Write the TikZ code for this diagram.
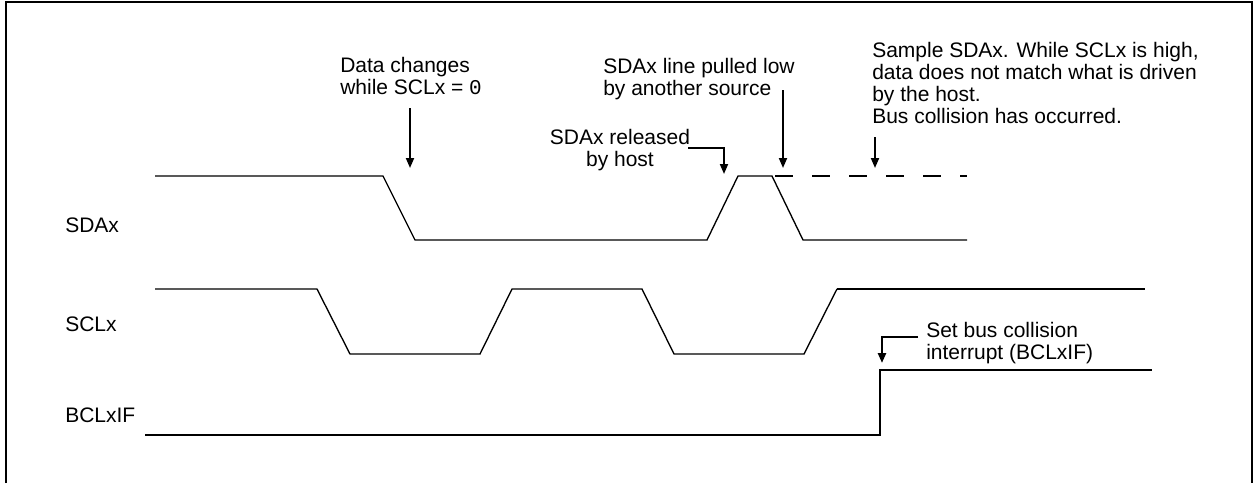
\documentclass[tikz,border=0pt]{standalone}
\usepackage{fontspec}
\setmainfont{Liberation Sans}
\newfontfamily\zerofont{Liberation Mono}
\usetikzlibrary{positioning, arrows.meta}

\begin{document}
\begin{tikzpicture}[
  x=0.75pt, y=-0.75pt,
  font=\fontsize{15.75}{16.3}\selectfont,
  signame/.style={anchor=base west, inner sep=0pt},
  note/.style={anchor=base west, align=left, inner sep=0pt},
  notec/.style={anchor=base, align=center, inner sep=0pt},
  wave/.style={line width=1pt, line join=miter},
  wavebold/.style={line width=2pt},
  arr/.style={-{Triangle[length=7.5pt, width=6pt]}, line width=1.4pt}
]
\useasboundingbox (0,0) rectangle (1257,483);
\draw[line width=2pt] (6,483) -- (6,2) -- (1252,2) -- (1252,483);

% signal names
\node[signame] (sda) at (65,232) {SDAx};
\node[signame] (scl) at (65,331) {SCLx};
\node[signame] (bcl) at (65,422) {BCLxIF};

% waveforms
\draw[wave] (155,176) -- (383,176) -- (415,240) -- (707,240) -- (738,176)
  -- (772,176) -- (803,240) -- (967,240);
\draw[wave, dash pattern=on 13.5pt off 14.25pt] (775,176) -- (967,176);
\draw[wave] (155,289) -- (317,289) -- (350,354) -- (480,354) -- (512,289)
  -- (642,289) -- (674,354) -- (804,354) -- (837,289);
\draw[wavebold] (837,289) -- (1145,289);
\draw[wavebold] (145,435) -- (880,435) -- (880,370) -- (1152,370);

% notes (placed at the baseline of their last line)
\node[note] (chg) at (340,94) {Data changes\\while SCLx = {\zerofont 0}};
\node[note] (pull) at (603,95) {SDAx line pulled low\\by another source};
\node[notec] (rel) at (620,166) {SDAx released\\by host};
\node[note] (smp) at (872,123) {Sample SDAx. While SCLx is high,\\data does not match what is driven\\by the host.\\Bus collision has occurred.};
\node[note] (bclset) at (926,359) {Set bus collision\\interrupt (BCLxIF)};

% arrow ends
\coordinate (chg-s) at (410,108);  \coordinate (chg-e) at (410,168);
\coordinate (rel-s) at (688,148);  \coordinate (rel-e) at (724,174);
\coordinate (pull-s) at (783,90);  \coordinate (pull-e) at (783,168);
\coordinate (smp-s) at (875,137);  \coordinate (smp-e) at (875,168);
\coordinate (bcl-s) at (918,337);  \coordinate (bcl-e) at (882,363);

\draw[arr] (chg-s) -- (chg-e);
\draw[arr] (rel-s) -| (rel-e);
\draw[arr] (pull-s) -- (pull-e);
\draw[arr] (smp-s) -- (smp-e);
\draw[arr, line width=1.8pt] (bcl-s) -| (bcl-e);
\end{tikzpicture}
\end{document}
